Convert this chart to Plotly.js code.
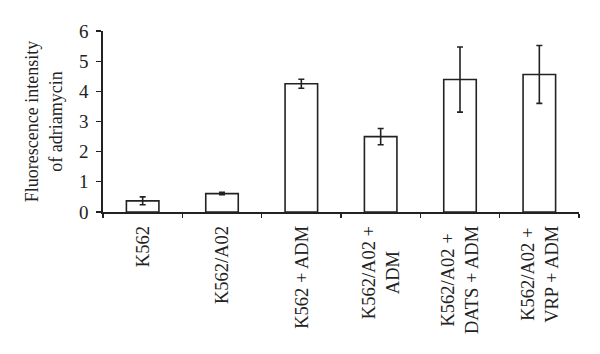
<!DOCTYPE html>
<html>
<head>
<meta charset="utf-8">
<script src="https://cdn.plot.ly/plotly-3.0.1.min.js"></script>
<style>html,body{margin:0;padding:0;background:#fff;}#chart{width:600px;height:354px;}</style>
</head>
<body>
<div id="chart"></div>
<script>
const categories = ["K562", "K562/A02", "K562 + ADM", "K562/A02 +<br>ADM", "K562/A02 +<br>DATS + ADM", "K562/A02 +<br>VRP + ADM"];
const values = [0.37, 0.61, 4.25, 2.50, 4.39, 4.56];
const errors = [0.13, 0.04, 0.15, 0.27, 1.08, 0.96];
const yTicks = [0, 1, 2, 3, 4, 5, 6];

const fam = "Liberation Serif";
const col = "#222";

const trace = {
  type: "bar",
  x: categories,
  y: values,
  width: 0.41,
  marker: {color: "#ffffff", line: {color: col, width: 1.6}},
  error_y: {type: "data", array: errors, visible: true, color: col, thickness: 1.6, width: 3},
  hoverinfo: "none"
};

const annotations = categories.map(c => ({
  xref: "x", yref: "paper",
  x: c, y: 0,
  yshift: -12,
  xanchor: "center", yanchor: "top",
  text: c,
  textangle: -90,
  align: "center",
  showarrow: false,
  font: {family: fam, size: 18.5, color: col}
}));

const layout = {
  width: 600, height: 354,
  margin: {l: 103, r: 21, t: 31, b: 142},
  paper_bgcolor: "#fff", plot_bgcolor: "#fff",
  font: {family: fam, size: 17, color: col},
  showlegend: false,
  annotations: annotations,
  xaxis: {
    type: "category",
    tickson: "boundaries",
    ticks: "outside", ticklen: 4, tickwidth: 1.3, tickcolor: col,
    showline: true, linecolor: col, linewidth: 1.6,
    showgrid: false, zeroline: false,
    showticklabels: false,
    automargin: false
  },
  yaxis: {
    range: [0, 6],
    tickvals: yTicks,
    ticktext: yTicks.map(String),
    ticks: "outside", ticklen: 5, tickwidth: 1.3, tickcolor: col,
    showline: true, linecolor: col, linewidth: 1.6,
    showgrid: false, zeroline: false,
    tickfont: {family: fam, size: 19, color: col},
    ticklabelstandoff: 4,
    title: {text: "Fluorescence intensity<br>of adriamycin", font: {family: fam, size: 18, color: col}, standoff: 12},
    automargin: false
  }
};

Plotly.newPlot("chart", [trace], layout, {displayModeBar: false, staticPlot: true});
</script>
</body>
</html>
